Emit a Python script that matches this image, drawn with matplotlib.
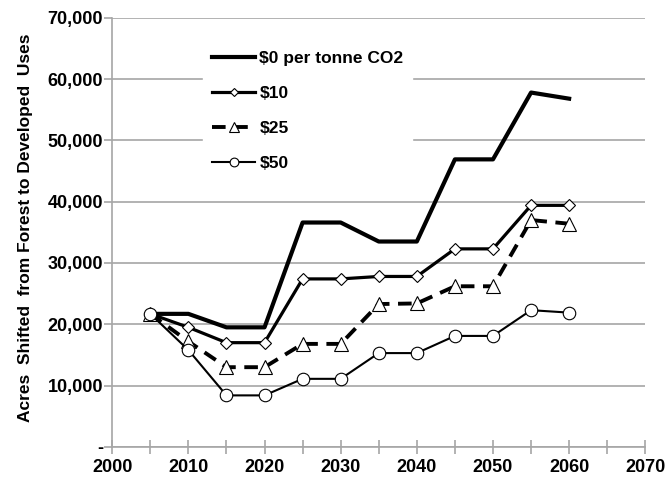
import matplotlib.pyplot as plt
from matplotlib.ticker import FuncFormatter, MultipleLocator

years = [2005, 2010, 2015, 2020, 2025, 2030, 2035, 2040, 2045, 2050, 2055, 2060]
price_0 = [21700, 21700, 19500, 19500, 36600, 36600, 33500, 33500, 46900, 46900, 57800, 56800]
price_10 = [21700, 19500, 17000, 17000, 27400, 27400, 27800, 27800, 32300, 32300, 39400, 39400]
price_25 = [21700, 17200, 13000, 13000, 16800, 16800, 23300, 23400, 26200, 26200, 37000, 36400]
price_50 = [21700, 15800, 8400, 8400, 11100, 11100, 15300, 15300, 18100, 18100, 22300, 21900]
labels = ["$0 per tonne CO2", "$10", "$25", "$50"]

plt.rcParams['font.family'] = ['Liberation Sans', 'DejaVu Sans']
plt.rcParams['font.weight'] = 'bold'

fig = plt.figure(figsize=(6.68, 4.8), dpi=100)
ax = fig.add_axes([0.168, 0.069, 0.798, 0.894])

ax.plot(years, price_0, color='black', lw=3.0, label=labels[0])
ax.plot(years, price_10, color='black', lw=2.3, marker='D', ms=6,
        mfc='white', mec='black', mew=0.8, label=labels[1])
ax.plot(years, price_25, color='black', lw=2.8, ls=(0, (3.5, 2.2)), marker='^',
        ms=9.5, mfc='white', mec='black', mew=0.8, label=labels[2])
ax.plot(years, price_50, color='black', lw=1.5, marker='o', ms=9,
        mfc='white', mec='black', mew=0.8, label=labels[3])

ax.set_xlim(2000, 2070)
ax.set_ylim(0, 70000)
ax.xaxis.set_major_locator(MultipleLocator(10))
ax.xaxis.set_minor_locator(MultipleLocator(5))
ax.yaxis.set_major_locator(MultipleLocator(10000))
ax.yaxis.set_major_formatter(FuncFormatter(lambda v, p: '-' if v == 0 else f'{int(v):,}'))

ax.grid(axis='y', color='#a6a6a6', lw=1.2)
ax.set_axisbelow(True)
for s in ['top', 'right']:
    ax.spines[s].set_visible(False)
for s in ['left', 'bottom']:
    ax.spines[s].set_color('#a6a6a6')
    ax.spines[s].set_linewidth(1.2)

ax.tick_params(axis='x', which='both', direction='inout', length=10, color='#a6a6a6',
               width=1.2, labelsize=13, pad=4)
ax.tick_params(axis='y', direction='out', length=6, color='#a6a6a6', width=1.2,
               labelsize=13, pad=0.5)
for t in ax.get_xticklabels() + ax.get_yticklabels():
    t.set_fontweight('bold')

ax.set_ylabel("Acres  Shifted  from Forest to Developed  Uses", fontsize=12.5,
              fontweight='bold')
ax.yaxis.set_label_coords(-0.149, 0.51)

leg = ax.legend(loc='upper left', bbox_to_anchor=(0.171, 0.944), frameon=True,
                framealpha=1, edgecolor='white', fancybox=False, handlelength=2.5,
                handletextpad=0.22, labelspacing=1.15, borderpad=0.5,
                borderaxespad=0, markerscale=0.7,
                prop={'weight': 'bold', 'size': 12.5})

fig.savefig("out.png", dpi=100)
